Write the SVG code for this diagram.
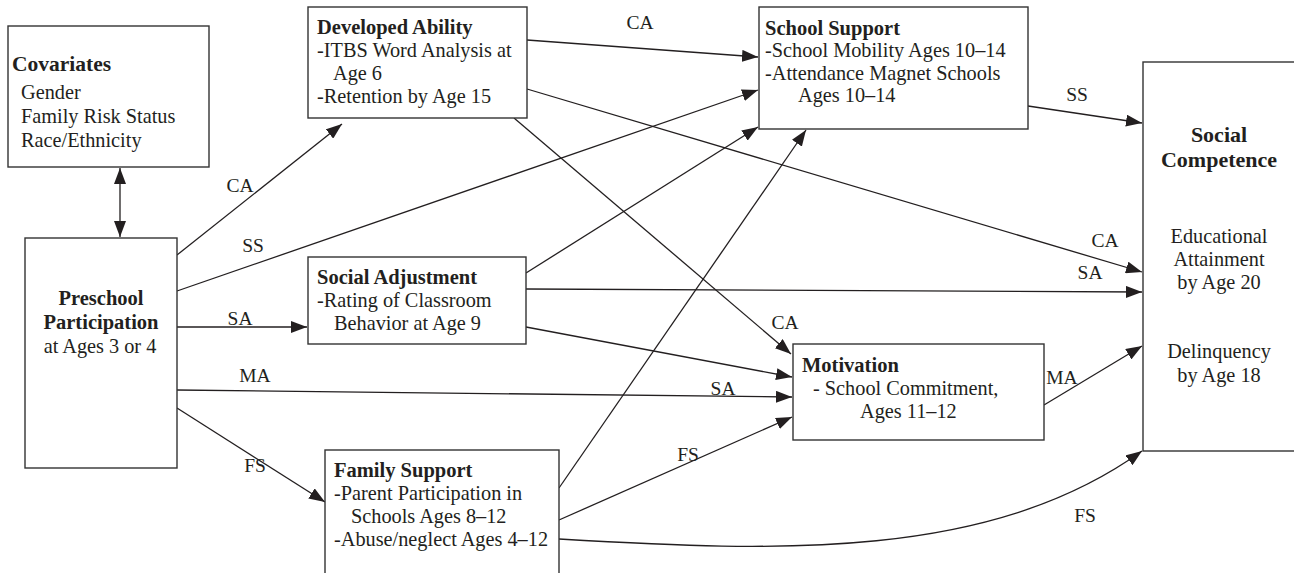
<svg xmlns="http://www.w3.org/2000/svg" width="1294" height="573" viewBox="0 0 1294 573">
  <style>
    .box { fill: #fff; stroke: #333; stroke-width: 1.4; }
    text { font-family: "Liberation Serif", "Times New Roman", serif; fill: #231f20; font-size: 20.3px; }
    .title { font-weight: bold; font-size: 20.5px; }
    .big { font-size: 22px; }
    .mid { text-anchor: middle; }
    .lbl { font-size: 19.5px; text-anchor: middle; }
    .conn { fill: none; stroke: #231f20; stroke-width: 1.3; marker-end: url(#arrow); }
  </style>
  <defs>
    <marker id="arrow" viewBox="0 0 16 12" refX="16" refY="6" markerWidth="16" markerHeight="12" markerUnits="userSpaceOnUse" orient="auto-start-reverse">
      <path d="M0,0 L16,6 L0,12 z" fill="#231f20"/>
    </marker>
  </defs>

  <rect width="1294" height="573" fill="#fff"/>

  <!-- connectors -->
  <g id="connectors">
    <path class="conn" d="M120,168 L120,237" marker-start="url(#arrow)"/>
    <path class="conn" d="M177,255 L342,124"/>
    <path class="conn" d="M177,291 L758,90"/>
    <path class="conn" d="M177,327 L307,327"/>
    <path class="conn" d="M177,390 L792,397"/>
    <path class="conn" d="M177,408 L325,502"/>
    <path class="conn" d="M527,40 L758,57"/>
    <path class="conn" d="M527,89 L1142,272"/>
    <path class="conn" d="M514,118 L791,354"/>
    <path class="conn" d="M526,273 L758,127"/>
    <path class="conn" d="M526,289 L1142,292"/>
    <path class="conn" d="M526,327 L792,377"/>
    <path class="conn" d="M559,488 L806,130"/>
    <path class="conn" d="M559,520 L792,417"/>
    <path class="conn" d="M559,539 C780,552 990,560 1142,451"/>
    <path class="conn" d="M1028,106 L1142,123"/>
    <path class="conn" d="M1044,405 L1142,346"/>

    <!-- path labels -->
    <text class="lbl" x="240" y="192">CA</text>
    <text class="lbl" x="253" y="252">SS</text>
    <text class="lbl" x="240" y="325">SA</text>
    <text class="lbl" x="255" y="382">MA</text>
    <text class="lbl" x="255" y="472">FS</text>
    <text class="lbl" x="640" y="29">CA</text>
    <text class="lbl" x="1077" y="101">SS</text>
    <text class="lbl" x="1105" y="247">CA</text>
    <text class="lbl" x="1090" y="279">SA</text>
    <text class="lbl" x="785" y="329">CA</text>
    <text class="lbl" x="723" y="395">SA</text>
    <text class="lbl" x="688" y="461">FS</text>
    <text class="lbl" x="1062" y="384">MA</text>
    <text class="lbl" x="1085" y="522">FS</text>
  </g>

  <g id="covariates">
    <rect class="box" x="8" y="26" width="201" height="141"/>
    <text class="title" x="12" y="71" style="font-size:21.5px">Covariates</text>
    <text x="21" y="99">Gender</text>
    <text x="21" y="123">Family Risk Status</text>
    <text x="21" y="147">Race/Ethnicity</text>
  </g>

  <g id="preschool">
    <rect class="box" x="25" y="238" width="152" height="230"/>
    <text class="title mid" x="101" y="305">Preschool</text>
    <text class="title mid" x="101" y="329">Participation</text>
    <text class="mid" x="100" y="353">at Ages 3 or 4</text>
  </g>

  <g id="developed-ability">
    <rect class="box" x="308" y="7" width="219" height="111"/>
    <text class="title" x="317" y="34">Developed Ability</text>
    <text x="317" y="57">-ITBS Word Analysis at</text>
    <text x="333" y="80">Age 6</text>
    <text x="317" y="103">-Retention by Age 15</text>
  </g>

  <g id="school-support">
    <rect class="box" x="759" y="7" width="269" height="122"/>
    <text class="title" x="765" y="35">School Support</text>
    <text x="765" y="57">-School Mobility Ages 10–14</text>
    <text x="765" y="80">-Attendance Magnet Schools</text>
    <text x="798" y="102">Ages 10–14</text>
  </g>

  <g id="social-adjustment">
    <rect class="box" x="308" y="257" width="218" height="87"/>
    <text class="title" x="317" y="284">Social Adjustment</text>
    <text x="317" y="307">-Rating of Classroom</text>
    <text x="334" y="330">Behavior at Age 9</text>
  </g>

  <g id="motivation">
    <rect class="box" x="793" y="344" width="251" height="96"/>
    <text class="title" x="802" y="372">Motivation</text>
    <text x="813" y="395">- School Commitment,</text>
    <text x="860" y="418">Ages 11–12</text>
  </g>

  <g id="family-support">
    <rect class="box" x="325" y="450" width="234" height="140"/>
    <text class="title" x="334" y="477">Family Support</text>
    <text x="334" y="500">-Parent Participation in</text>
    <text x="351" y="523">Schools Ages 8–12</text>
    <text x="334" y="546">-Abuse/neglect Ages 4–12</text>
  </g>

  <g id="social-competence">
    <rect class="box" x="1143" y="62" width="170" height="389"/>
    <text class="title big mid" x="1219" y="142">Social</text>
    <text class="title big mid" x="1219" y="167">Competence</text>
    <text class="mid" x="1219" y="243">Educational</text>
    <text class="mid" x="1219" y="266">Attainment</text>
    <text class="mid" x="1219" y="289">by Age 20</text>
    <text class="mid" x="1219" y="358">Delinquency</text>
    <text class="mid" x="1219" y="382">by Age 18</text>
  </g>
</svg>
